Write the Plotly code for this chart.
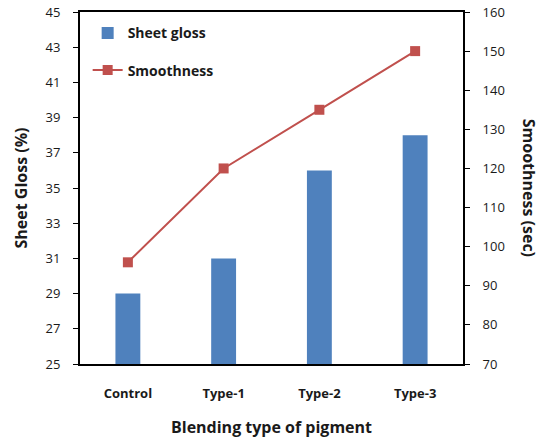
import plotly.graph_objects as go

categories = ["Control", "Type-1", "Type-2", "Type-3"]
sheet_gloss = [29, 31, 36, 38]
smoothness = [96, 120, 135, 150]
gloss_ticks = [25, 27, 29, 31, 33, 35, 37, 39, 41, 43, 45]
smooth_ticks = [70, 80, 90, 100, 110, 120, 130, 140, 150, 160]

FONT = "Open Sans"
TXT = "#1a1a1a"

fig = go.Figure()
fig.add_trace(go.Bar(x=categories, y=sheet_gloss, name="<b>Sheet gloss</b>",
                     marker=dict(color="#4F81BD", line=dict(width=0)),
                     width=0.26, yaxis="y", legendgroup="a"))
fig.add_trace(go.Scatter(x=categories, y=smoothness, name="<b>Smoothness</b>",
                         mode="lines+markers", yaxis="y2", legendgroup="b",
                         line=dict(color="#C0504D", width=2),
                         marker=dict(symbol="square", size=10, color="#C0504D")))

fig.update_layout(
    width=543, height=442,
    margin=dict(l=80, r=80, t=12, b=78, autoexpand=False),
    plot_bgcolor="white", paper_bgcolor="white",
    font=dict(family=FONT, color=TXT, size=13),
    showlegend=True,
    legend=dict(x=0.02, y=0.985, xanchor="left", yanchor="top", traceorder="grouped",
                bgcolor="rgba(0,0,0,0)", font=dict(size=14, family=FONT, color=TXT),
                tracegroupgap=16, itemwidth=30),
    xaxis=dict(showline=True, linecolor="black", linewidth=2, mirror=True,
               ticks="", ticklabelstandoff=16, automargin=False,
               tickfont=dict(size=13, family=FONT, color=TXT)),
    yaxis=dict(range=[25, 45], tickvals=gloss_ticks, showgrid=False, zeroline=False,
               showline=True, linecolor="black", linewidth=2, automargin=False,
               ticks="outside", ticklen=5, tickcolor="black", ticklabelstandoff=10,
               ticklabeloverflow="allow",
               tickfont=dict(size=13, family=FONT, color=TXT),
               title=dict(text="<b>Sheet Gloss (%)</b>", font=dict(size=16, family=FONT, color=TXT), standoff=14)),
    yaxis2=dict(range=[70, 160], tickvals=smooth_ticks, overlaying="y", side="right",
                showgrid=False, zeroline=False, showline=True, linecolor="black", linewidth=2,
                automargin=False, ticks="outside", ticklen=5, tickcolor="black", ticklabelstandoff=10,
                ticklabeloverflow="allow",
                tickfont=dict(size=13, family=FONT, color=TXT)),
    annotations=[
        dict(text="<b>Smoothness (sec)</b>", textangle=90, x=1.207, y=0.5,
             xref="paper", yref="paper", showarrow=False,
             font=dict(size=16, family=FONT, color=TXT)),
        dict(text="<b>Blending type of pigment</b>", x=0.5, y=-0.179,
             xref="paper", yref="paper", showarrow=False, yanchor="middle",
             font=dict(size=16, family=FONT, color=TXT)),
    ],
)
fig.update_xaxes(tickprefix="<b>", ticksuffix="</b>")
fig.update_yaxes(tickprefix="<b>", ticksuffix="</b>")

fig.write_html("out.html", config={"displayModeBar": False},
               post_script="document.body.style.margin='0';")
